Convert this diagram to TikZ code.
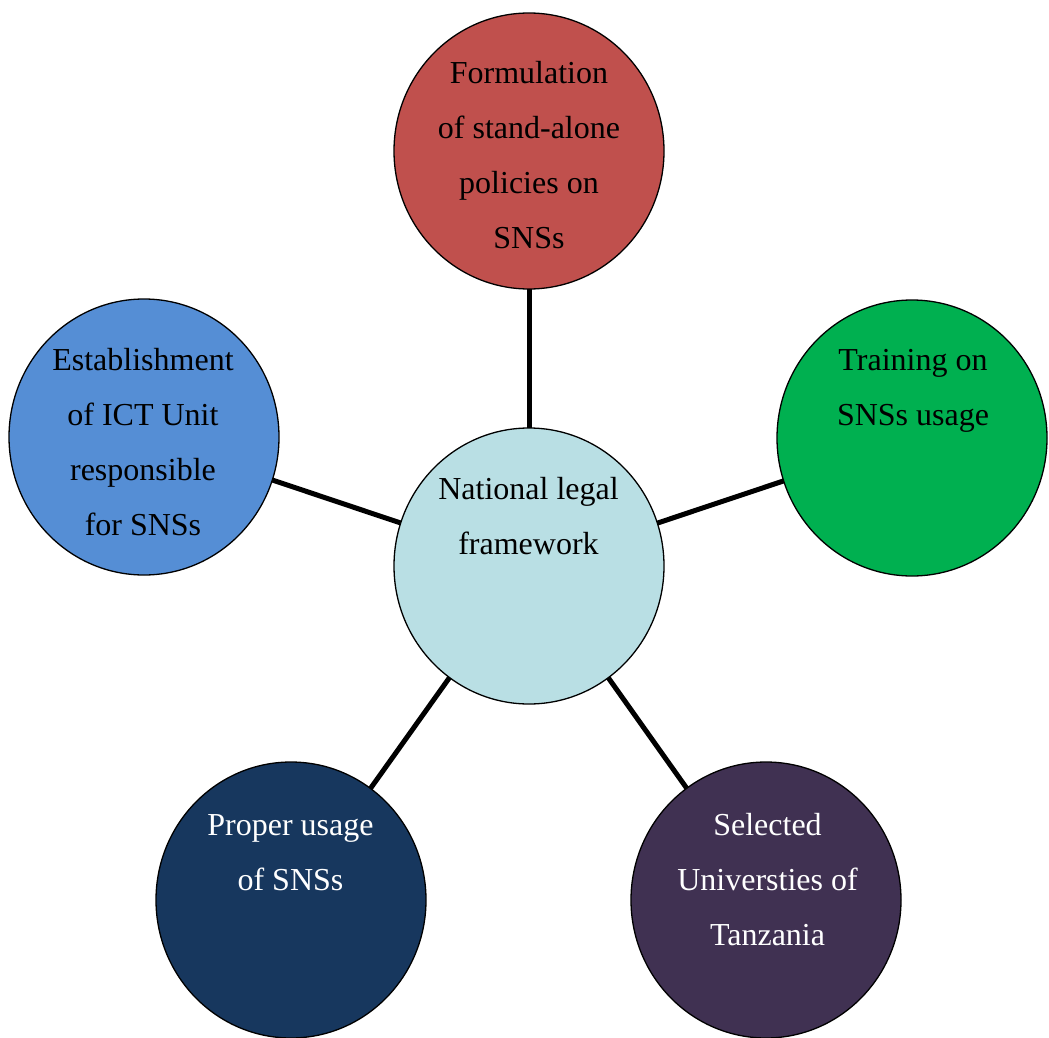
\documentclass[tikz,border=0pt]{standalone}
\usepackage{fontspec}
\setmainfont{Liberation Serif}
\usetikzlibrary{shapes.geometric,backgrounds}
\definecolor{cred}{HTML}{C0504D}
\definecolor{cblue}{HTML}{558ED5}
\definecolor{cgreen}{HTML}{00B050}
\definecolor{clight}{HTML}{B9DFE4}
\definecolor{cnavy}{HTML}{17375E}
\definecolor{cpurple}{HTML}{403152}
\begin{document}
\begin{tikzpicture}[x=1pt,y=-1pt,
  bubble/.style={ellipse, draw=black, line width=1.3pt, minimum width=270pt, minimum height=276pt, inner sep=0pt, outer sep=0pt},
  txt/.style={anchor=north, align=center, inner sep=0pt, outer sep=0pt, font=\fontsize{32}{55}\selectfont},
  link/.style={line width=5pt}]
\useasboundingbox (0,0) rectangle (1049,1038);
\node[bubble, fill=cred]    (top)    at (529,151) {};
\node[bubble, fill=cblue]   (left)   at (144,437) {};
\node[bubble, fill=cgreen]  (right)  at (912,438) {};
\node[bubble, fill=clight]  (center) at (529,566) {};
\node[bubble, fill=cnavy]   (bl)     at (291,900) {};
\node[bubble, fill=cpurple] (br)     at (766,900) {};
\begin{scope}[on background layer]
\draw[link] (center) -- (top);
\draw[link] (center) -- (left);
\draw[link] (center) -- (right);
\draw[link] (center) -- (bl);
\draw[link] (center) -- (br);
\end{scope}
\node[txt] (ttop) at (529,44.5) {\strut Formulation\\of stand-alone\\policies on\\SNSs};
\node[txt] (tleft) at (143,331.5) {\strut Establishment\\of ICT Unit\\responsible\\for SNSs};
\node[txt] (tright) at (913,331.5) {\strut Training on\\SNSs usage};
\node[txt] (tcenter) at (528.5,460.5) {\strut National legal\\framework};
\node[txt, text=white] (tbl) at (290.5,796.5) {\strut Proper usage\\of SNSs};
\node[txt, text=white] (tbr) at (767.5,796.5) {\strut Selected\\Universties of\\Tanzania};
\end{tikzpicture}
\end{document}
